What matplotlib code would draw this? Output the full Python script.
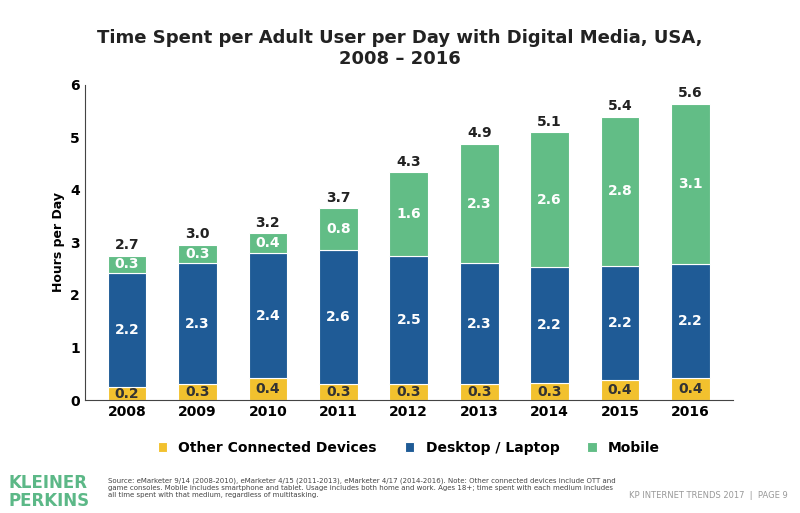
import matplotlib.pyplot as plt
import numpy as np

years = ['2008', '2009', '2010', '2011', '2012', '2013', '2014', '2015', '2016']
other = [0.25, 0.30, 0.42, 0.30, 0.30, 0.30, 0.32, 0.38, 0.43]
desktop = [2.17, 2.30, 2.37, 2.55, 2.45, 2.30, 2.22, 2.18, 2.15]
mobile = [0.33, 0.35, 0.38, 0.80, 1.58, 2.27, 2.55, 2.83, 3.05]
other_lbl = ['0.2', '0.3', '0.4', '0.3', '0.3', '0.3', '0.3', '0.4', '0.4']
desktop_lbl = ['2.2', '2.3', '2.4', '2.6', '2.5', '2.3', '2.2', '2.2', '2.2']
mobile_lbl = ['0.3', '0.3', '0.4', '0.8', '1.6', '2.3', '2.6', '2.8', '3.1']
total_lbl = ['2.7', '3.0', '3.2', '3.7', '4.3', '4.9', '5.1', '5.4', '5.6']

c_other, c_desk, c_mob = '#f2c12e', '#1f5b96', '#62bd86'

fig = plt.figure(figsize=(8, 5.13), dpi=100)
ax = fig.add_axes([0.106, 0.22, 0.81, 0.615])
x = np.arange(len(years))
w = 0.55
o = np.array(other); d = np.array(desktop); m = np.array(mobile)
ax.bar(x, o, w, color=c_other, edgecolor='white', linewidth=0.8, label='Other Connected Devices')
ax.bar(x, d, w, bottom=o, color=c_desk, edgecolor='white', linewidth=0.8, label='Desktop / Laptop')
ax.bar(x, m, w, bottom=o + d, color=c_mob, edgecolor='white', linewidth=0.8, label='Mobile')

fs = 10
for i in range(len(years)):
    ax.text(x[i], o[i] / 2, other_lbl[i], ha='center', va='center', fontsize=fs, fontweight='bold', color='#333333')
    ax.text(x[i], o[i] + d[i] / 2, desktop_lbl[i], ha='center', va='center', fontsize=fs, fontweight='bold', color='white')
    ax.text(x[i], o[i] + d[i] + m[i] / 2, mobile_lbl[i], ha='center', va='center', fontsize=fs, fontweight='bold', color='white')
    ax.text(x[i], o[i] + d[i] + m[i] + 0.07, total_lbl[i], ha='center', va='bottom', fontsize=fs, fontweight='bold', color='#222222')

ax.set_ylim(0, 6)
ax.set_xlim(-0.6, len(years) - 0.4)
ax.set_xticks(x)
ax.set_xticklabels(years, fontsize=fs, fontweight='bold')
ax.set_yticks(range(7))
ax.tick_params(axis='y', labelsize=fs, length=0)
ax.tick_params(axis='x', length=0)
for t in ax.get_yticklabels():
    t.set_fontweight('bold')
ax.set_ylabel('Hours per Day', fontsize=9, fontweight='bold')
for s in ['top', 'right']:
    ax.spines[s].set_visible(False)
ax.spines['left'].set_color('#444444')
ax.spines['bottom'].set_color('#444444')

ax.legend(loc='upper center', bbox_to_anchor=(0.5, -0.09), ncol=3, frameon=False,
          handlelength=0.7, handleheight=0.7, columnspacing=2.0,
          prop={'weight': 'bold', 'size': 10})

fig.text(0.5, 0.905, 'Time Spent per Adult User per Day with Digital Media, USA,\n2008 \u2013 2016',
         ha='center', va='center', fontsize=13, fontweight='bold', color='#222222')

fig.text(0.01, 0.04, 'KLEINER\nPERKINS', fontsize=12, fontweight='bold', color='#5cb887',
         va='center', ha='left', linespacing=1.0)
fig.text(0.135, 0.05, 'Source: eMarketer 9/14 (2008-2010), eMarketer 4/15 (2011-2013), eMarketer 4/17 (2014-2016). Note: Other connected devices include OTT and\n'
         'game consoles. Mobile includes smartphone and tablet. Usage includes both home and work. Ages 18+; time spent with each medium includes\n'
         'all time spent with that medium, regardless of multitasking.',
         fontsize=5, va='center', ha='left', color='#444444')
fig.text(0.985, 0.035, 'KP INTERNET TRENDS 2017  |  PAGE 9', fontsize=6, ha='right', va='center', color='#999999')

fig.savefig('out.png', dpi=100)
